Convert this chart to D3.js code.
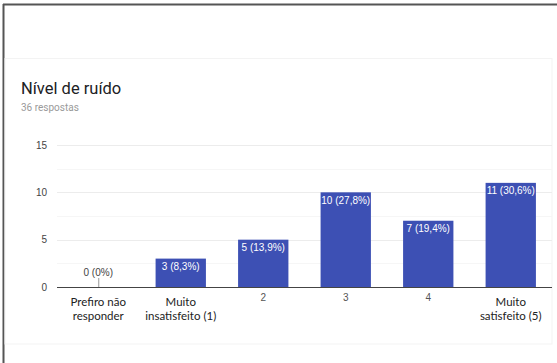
<!DOCTYPE html>
<html>
<head>
<meta charset="utf-8">
<script src="https://cdn.jsdelivr.net/npm/d3@7"></script>
<style>
html,body{margin:0;padding:0;background:#fff;}
svg{display:block;}
</style>
</head>
<body>
<svg id="chart" width="557" height="363"></svg>
<script>
const categories = [["Prefiro não","responder"],["Muito","insatisfeito (1)"],["2"],["3"],["4"],["Muito","satisfeito (5)"]];
const values = [0, 3, 5, 10, 7, 11];
const valueLabels = ["0 (0%)","3 (8,3%)","5 (13,9%)","10 (27,8%)","7 (19,4%)","11 (30,6%)"];
const yTicks = [0, 5, 10, 15];
const yMinorTicks = [2.5, 7.5, 12.5];
const title = "Nível de ruído";
const subtitle = "36 respostas";

const svg = d3.select("#chart");

// outer frame (screenshot border)
svg.append("rect").attr("x",0).attr("y",0).attr("width",557).attr("height",363).attr("fill","#fff");
svg.append("line").attr("x1",3.5).attr("x2",3.5).attr("y1",4).attr("y2",363).attr("stroke","#555").attr("stroke-width",2);
svg.append("line").attr("x1",3).attr("x2",557).attr("y1",4.5).attr("y2",4.5).attr("stroke","#555").attr("stroke-width",2);
// card
svg.append("rect").attr("x",5).attr("y",58.5).attr("width",547).attr("height",285.5)
  .attr("fill","#fff").attr("stroke","#f3f3f3").attr("stroke-width",1);

svg.append("text").attr("x",21).attr("y",94).text(title)
  .attr("font-family","Roboto, 'Noto Sans', sans-serif").attr("font-size",16.5).attr("fill","#202124");
svg.append("text").attr("x",21).attr("y",111).text(subtitle)
  .attr("font-family","Roboto, Arial, sans-serif").attr("font-size",10).attr("fill","#9a9a9a");

const x = d3.scaleBand().domain(d3.range(categories.length)).range([57, 552])
  .paddingInner(0.39).paddingOuter(0.195);
const y = d3.scaleLinear().domain([0, 15]).range([287, 145]);

const g = svg.append("g");
// minor gridlines
g.selectAll("line.minor").data(yMinorTicks).enter().append("line")
  .attr("x1",57).attr("x2",552).attr("y1",d=>Math.round(y(d))+0.5).attr("y2",d=>Math.round(y(d))+0.5)
  .attr("stroke","#f6f6f6");
// major gridlines
g.selectAll("line.major").data(yTicks.filter(d=>d>0)).enter().append("line")
  .attr("x1",57).attr("x2",552).attr("y1",d=>Math.round(y(d))+0.5).attr("y2",d=>Math.round(y(d))+0.5)
  .attr("stroke","#ececec");

// y axis labels
const yAxis = d3.axisLeft(y).tickValues(yTicks).tickSize(0).tickPadding(10);
const ya = svg.append("g").attr("transform","translate(57,0)").call(yAxis);
ya.select(".domain").remove();
ya.selectAll("text").attr("font-family","Arial, 'Liberation Sans', sans-serif").attr("font-size",10).attr("fill","#444");

// bars
g.selectAll("rect.bar").data(values).enter().append("rect")
  .attr("x",(d,i)=>x(i)).attr("width",x.bandwidth())
  .attr("y",d=>y(d)).attr("height",d=>y(0)-y(d))
  .attr("fill","#3d50b4");

// zero bar marker
values.forEach((v,i)=>{
  if(v===0){
    g.append("line").attr("x1",x(i)+x.bandwidth()/2+0.5).attr("x2",x(i)+x.bandwidth()/2+0.5)
      .attr("y1",y(0)).attr("y2",y(0)-9).attr("stroke","#999");
  }
});

// value labels
g.selectAll("text.val").data(values).enter().append("text")
  .attr("x",(d,i)=>x(i)+x.bandwidth()/2)
  .attr("y",(d)=> d===0 ? y(0)-11 : y(d)+11.5)
  .attr("text-anchor","middle")
  .attr("font-family","Arial, 'Liberation Sans', sans-serif").attr("font-size",10)
  .attr("fill",d=> d===0 ? "#444" : "#fff")
  .text((d,i)=>valueLabels[i]);

// x axis line
svg.append("line").attr("x1",57).attr("x2",552).attr("y1",287.5).attr("y2",287.5).attr("stroke","#444").attr("stroke-width",1);

// x labels
categories.forEach((lines,i)=>{
  const cx = x(i)+x.bandwidth()/2;
  if(lines.length===1){
    svg.append("text").attr("x",cx).attr("y",301).attr("text-anchor","middle")
      .attr("font-family","Arial, 'Liberation Sans', sans-serif").attr("font-size",10).attr("fill","#555")
      .text(lines[0]);
  } else {
    lines.forEach((t,k)=>{
      svg.append("text").attr("x",cx).attr("y",306+k*14).attr("text-anchor","middle")
        .attr("font-family","Lato, 'Open Sans', sans-serif").attr("font-size",11.5).attr("fill","#222")
        .text(t);
    });
  }
});
</script>
</body>
</html>
